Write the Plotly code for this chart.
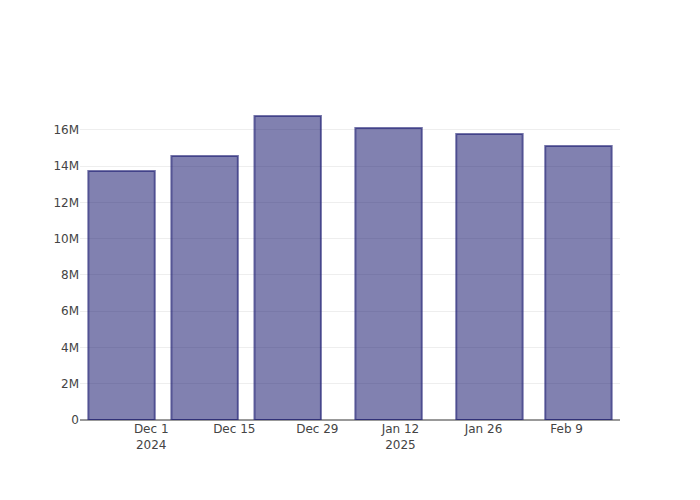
import plotly.graph_objects as go

dates = ["2024-11-26", "2024-12-10", "2024-12-24", "2025-01-10", "2025-01-27", "2025-02-11"]
values = [13.74e6, 14.57e6, 16.77e6, 16.11e6, 15.78e6, 15.12e6]

fig = go.Figure(
    go.Bar(
        x=dates,
        y=values,
        marker=dict(color="rgba(25,25,112,0.55)",
                    line=dict(color="rgba(25,25,112,0.6)", width=2)),
    )
)
fig.update_layout(
    template="plotly_white",
    width=684,
    height=484,
    margin=dict(l=72, r=72, t=92, b=72),
    showlegend=False,
    font=dict(color="#444", family="DejaVu Sans"),
)
fig.update_xaxes(showline=False, showgrid=False,
                 dtick=14 * 86400000, tick0="2024-12-01", tickformat="%b %-d\n%Y")
fig.update_yaxes(gridcolor="#eeeeee", zeroline=True, zerolinecolor="#999",
                 zerolinewidth=2, tickformat="~s", dtick=2e6)
fig.write_html("out.html")
